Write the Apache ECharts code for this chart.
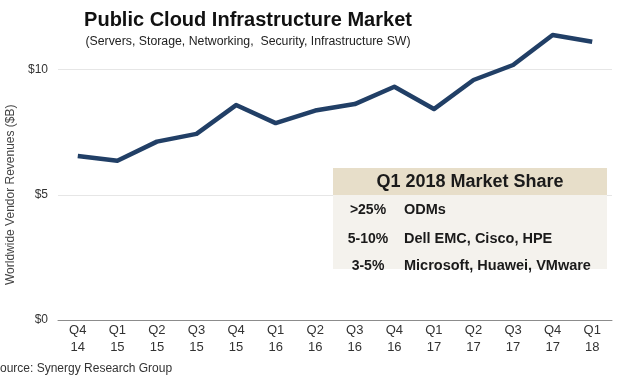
<!DOCTYPE html>
<html><head><meta charset="utf-8">
<script src="https://cdn.jsdelivr.net/npm/echarts@6/dist/echarts.min.js"></script>
<style>html,body{margin:0;padding:0;background:#fff}#c{width:618px;height:381px}</style>
</head><body><div id="c"></div>
<script>
const categories = ['Q4\n14','Q1\n15','Q2\n15','Q3\n15','Q4\n15','Q1\n16','Q2\n16','Q3\n16','Q4\n16','Q1\n17','Q2\n17','Q3\n17','Q4\n17','Q1\n18'];
const revenues = [6.55, 6.36, 7.12, 7.43, 8.58, 7.86, 8.36, 8.62, 9.31, 8.42, 9.58, 10.18, 11.38, 11.11];
const yTicks = [0, 5, 10];
const shareLabel = ['>25%', '5-10%', '3-5%'];
const shareVendors = ['ODMs', 'Dell EMC, Cisco, HPE', 'Microsoft, Huawei, VMware'];

const chart = echarts.init(document.getElementById('c'));
const F = 'Liberation Sans, Arial, sans-serif';
const rowY = [210, 239, 266];
const tableEls = [
  {type:'rect', shape:{x:333,y:168,width:274,height:101}, style:{fill:'#f4f2ed'}, z:10},
  {type:'rect', shape:{x:333,y:168,width:274,height:27}, style:{fill:'#e7dec9'}, z:11},
  {type:'text', x:470, y:182, style:{text:'Q1 2018 Market Share', font:'bold 18px '+F, fill:'#1a1a1a', align:'center', verticalAlign:'middle'}, z:12}
];
shareLabel.forEach((l,i)=>{
  tableEls.push({type:'text', x:368, y:rowY[i], style:{text:l, font:'bold 14px '+F, fill:'#1a1a1a', align:'center', verticalAlign:'middle'}, z:12});
  tableEls.push({type:'text', x:404, y:rowY[i], style:{text:shareVendors[i], font:'bold 14.5px '+F, fill:'#1a1a1a', align:'left', verticalAlign:'middle'}, z:12});
});

chart.setOption({
  animation:false,
  backgroundColor:'#fff',
  title:[
    {text:'Public Cloud Infrastructure Market', left:243, top:5, textAlign:'center', textStyle:{fontFamily:F, fontWeight:'bold', fontSize:20, color:'#111'}},
    {text:'(Servers, Storage, Networking,  Security, Infrastructure SW)', left:243, top:31, textAlign:'center', textStyle:{fontFamily:F, fontWeight:'normal', fontSize:12.3, color:'#222'}}
  ],
  grid:{left:58, right:6, top:69.5, bottom:61, containLabel:false, outerBoundsMode:'none'},
  xAxis:{type:'category', data:categories, boundaryGap:true,
    axisLine:{lineStyle:{color:'#8c8c8c', width:1}}, axisTick:{show:false},
    axisLabel:{fontFamily:F, fontSize:13, color:'#333', lineHeight:17, margin:2, interval:0}},
  yAxis:{type:'value', min:0, max:10, interval:5,
    name:'Worldwide Vendor Revenues ($B)', nameLocation:'middle', nameGap:36, nameRotate:90,
    nameTextStyle:{fontFamily:F, fontSize:12, color:'#444'},
    axisLine:{show:false}, axisTick:{show:false},
    axisLabel:{fontFamily:F, fontSize:12, color:'#333', margin:10, formatter:v=>yTicks.includes(v)?'$'+v:''},
    splitLine:{lineStyle:{color:'#e6e6e6', width:1}}},
  series:[{type:'line', data:revenues, clip:false, symbol:'none', lineStyle:{color:'#213f66', width:4.5, join:'round'}, z:5}],
  graphic:[
    ...tableEls,
    {type:'text', left:-8, top:363, style:{text:'Source: Synergy Research Group', font:'12px '+F, fill:'#333'}}
  ]
});
</script></body></html>
